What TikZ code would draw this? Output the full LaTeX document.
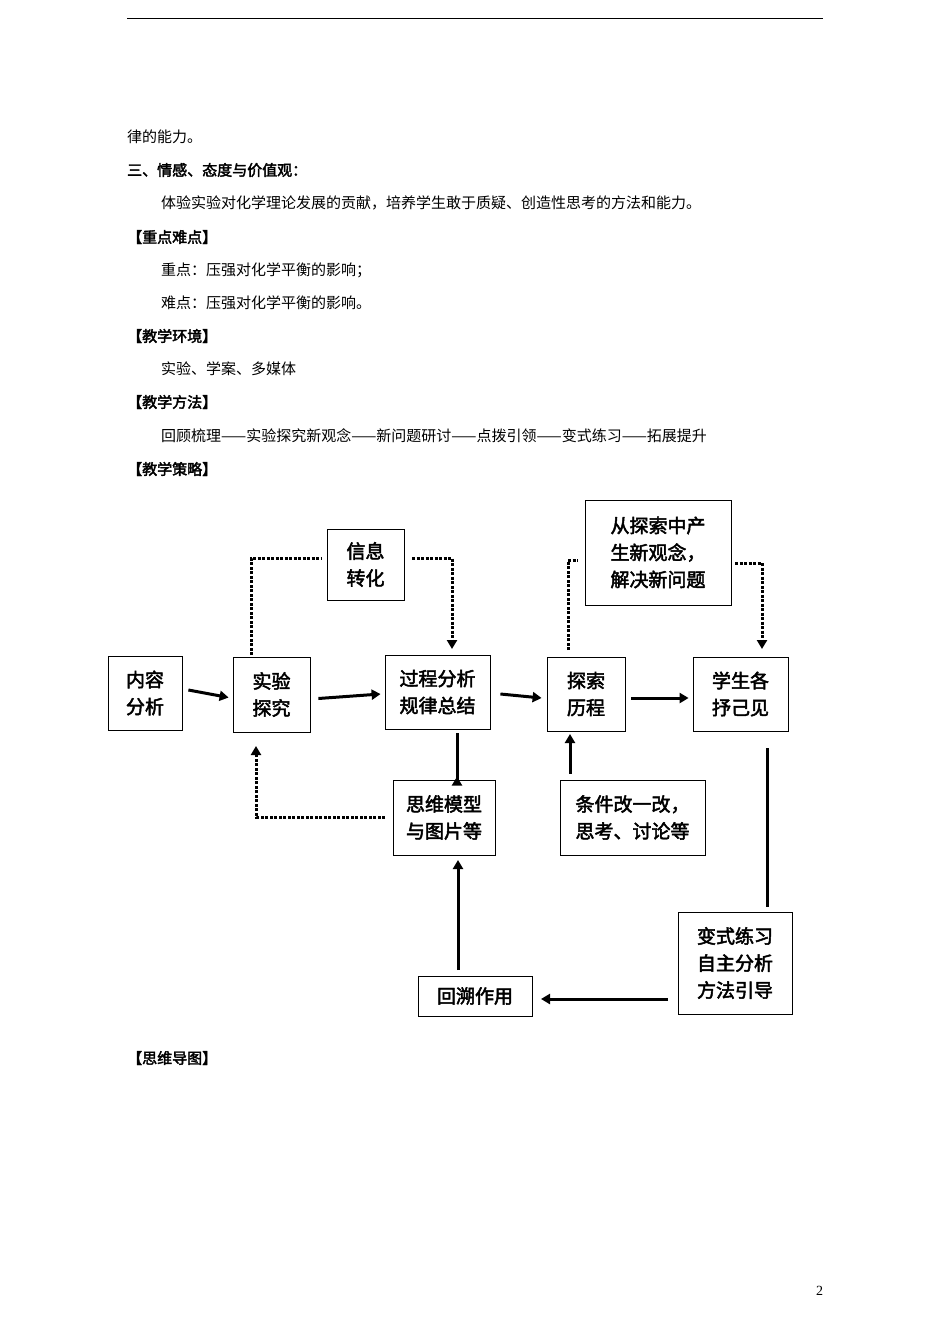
\documentclass[tikz,border=0pt]{standalone}
\usepackage{fontspec}
\setmainfont{Liberation Serif}
\newfontfamily\cjk[AutoFakeBold=2.5]{Noto Sans CJK SC}
\usetikzlibrary{arrows.meta}
\begin{document}
\begin{tikzpicture}[x=1pt,y=-1pt,
  txt/.style={anchor=west,inner sep=0,font=\cjk\fontsize{15}{15}\selectfont},
  hd/.style={txt,font=\cjk\bfseries\fontsize{15}{15}\selectfont},
  box/.style={draw,line width=0.8pt,align=center,inner sep=0,font=\cjk\bfseries\fontsize{19}{27}\selectfont},
  sol/.style={line width=3pt,-{Triangle[length=9pt,width=10pt]}},
  dot/.style={line width=3pt,dash pattern=on 3pt off 1.5pt,-{Triangle[length=9pt,width=10pt]}},
  dotn/.style={line width=3pt,dash pattern=on 3pt off 1.5pt}]
\useasboundingbox[fill=white] (0,0) rectangle (950,1344);
\draw[line width=0.6pt] (127,18) -- (823,18);
\node[txt] (t1) at (127,137) {律的能力。};
\node[hd] (t2) at (127,170) {三、情感、态度与价值观：};
\node[txt] (t3) at (161,203) {体验实验对化学理论发展的贡献，培养学生敢于质疑、创造性思考的方法和能力。};
\node[hd] (t4) at (127,237) {【重点难点】};
\node[txt] (t5) at (161,270) {重点：压强对化学平衡的影响；};
\node[txt] (t6) at (161,303) {难点：压强对化学平衡的影响。};
\node[hd] (t7) at (127,336) {【教学环境】};
\node[txt] (t8) at (161,369) {实验、学案、多媒体};
\node[hd] (t9) at (127,402) {【教学方法】};
\node[txt] (t10) at (161,436) {回顾梳理——实验探究新观念——新问题研讨——点拨引领——变式练习——拓展提升};
\node[hd] (t11) at (127,469) {【教学策略】};
\node[hd] (t12) at (127,1058) {【思维导图】};
\node[txt,font=\fontsize{14}{14}\selectfont] (pg) at (816,1291) {2};

\node[box,minimum width=74pt,minimum height=74pt] (a) at (145,693) {内容\\分析};
\node[box,minimum width=77pt,minimum height=75pt] (b) at (271.5,694.5) {实验\\探究};
\node[box,minimum width=105pt,minimum height=74pt] (c) at (437.5,692) {过程分析\\规律总结};
\node[box,minimum width=78pt,minimum height=74pt] (d) at (586,694) {探索\\历程};
\node[box,minimum width=95pt,minimum height=74pt] (e) at (740.5,694) {学生各\\抒己见};
\node[box,minimum width=77pt,minimum height=71pt] (f) at (365.5,564.5) {信息\\转化};
\node[box,minimum width=146pt,minimum height=105pt] (g) at (658,552.5) {从探索中产\\生新观念，\\解决新问题};
\node[box,minimum width=102pt,minimum height=75pt] (h) at (444,817.5) {思维模型\\与图片等};
\node[box,minimum width=145pt,minimum height=75pt] (i) at (632.5,817.5) {条件改一改，\\思考、讨论等};
\node[box,minimum width=114pt,minimum height=102pt] (j) at (735,963) {变式练习\\自主分析\\方法引导};
\node[box,minimum width=114pt,minimum height=40pt] (k) at (475,996) {回溯作用};

\draw[sol] (a.east)+(6,-3) -- ([yshift=-3pt,xshift=-4pt]b.west);
\draw[sol] ([xshift=8pt,yshift=-4pt]b.east) -- ([xshift=-4pt,yshift=-2pt]c.west);
\draw[sol] ([xshift=10pt,yshift=-2pt]c.east) -- ([xshift=-5pt,yshift=-4pt]d.west);
\draw[sol] ([xshift=6pt,yshift=-4pt]d.east) -- ([xshift=-4pt,yshift=-4pt]e.west);
\draw[dotn] (251,655) -- (251,558) -- (322,558);
\draw[dot] (412,558) -- (452,558) -- (452,649);
\draw[dotn] (568,650) -- (568,560) -- (578,560);
\draw[dot] (735,563) -- (762,563) -- (762,649);
\draw[sol] (457,733) -- (h.north -| 457,0) ++(0,-3);
\draw[sol] (i.north -| 570,0) ++(0,-6) -- (570,734);
\draw[dot] (385,817) -- (256,817) -- (256,746);
\draw[line width=3pt] (767,748) -- (767,907);
\draw[sol] (668,999) -- (541,999);
\draw[sol] (458,970) -- (458,860);
\end{tikzpicture}
\end{document}
